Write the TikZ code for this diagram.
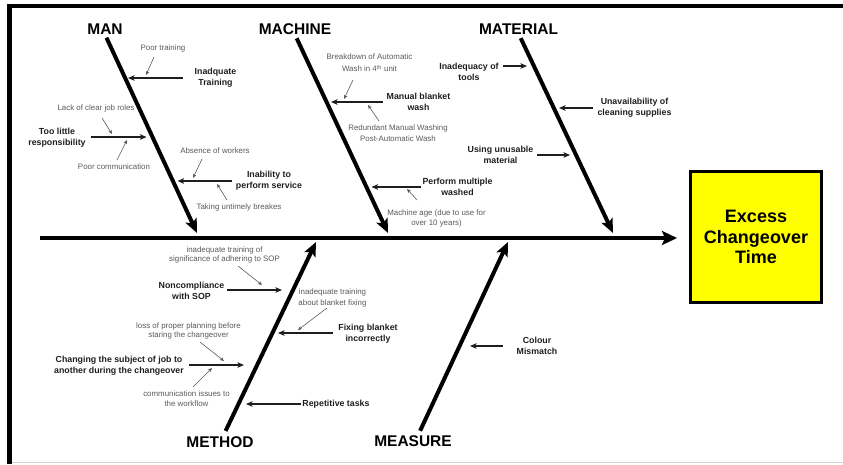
\documentclass[tikz,border=0pt]{standalone}
\usepackage{fontspec}
\setmainfont{Liberation Sans}
\usetikzlibrary{arrows.meta,calc}
\definecolor{notegray}{HTML}{5A5A5A}
\definecolor{labblack}{HTML}{1E1E1E}
\definecolor{boxyellow}{HTML}{FFFF00}
\begin{document}
\begin{tikzpicture}[x=1pt,y=-1pt,
  cat/.style={font=\fontsize{15.5}{18}\selectfont\bfseries, text=black, inner sep=0pt},
  lab/.style={font=\fontsize{8.8}{10.7}\selectfont\bfseries, text=labblack, align=center, inner sep=0pt},
  note/.style={font=\fontsize{7.9}{10.7}\selectfont, text=notegray, align=center, inner sep=0pt},
  tightnote/.style={note, font=\fontsize{7.9}{8.4}\selectfont},
  bone/.style={line width=4pt, -{Stealth[length=14pt,width=12pt,inset=3pt]}},
  sub/.style={line width=1.3pt, draw=labblack, -{Stealth[length=6.5pt,width=5.5pt,inset=1.5pt]}},
  tiny/.style={line width=0.6pt, draw=notegray, -{Stealth[length=4pt,width=3.5pt,inset=1pt]}},
]
\useasboundingbox (0,0) rectangle (843,464);
% frame
\draw[line width=4pt] (7,6) -- (843,6);
\draw[line width=4.5pt] (9.5,4) -- (9.5,464);
\draw[gray!35, line width=0.8pt] (12,462) -- (843,462);

% effect box
\node[draw, line width=3pt, fill=boxyellow, minimum width=131pt, minimum height=131pt,
      font=\fontsize{18}{20.5}\selectfont\bfseries, align=center, inner sep=0pt] (effect) at (756,237) {Excess\\Changeover\\Time};

% spine
\coordinate (sp0) at (40,238);
\draw[line width=4pt, -{Stealth[length=15pt,width=14pt,inset=3pt]}, shorten >=12pt] (sp0) -- (effect.west |- sp0);

% categories
\node[cat] (man) at (105,29) {MAN};
\node[cat] (machine) at (295,29) {MACHINE};
\node[cat] (material) at (518.5,29) {MATERIAL};
\node[cat] (method) at (220,442) {METHOD};
\node[cat] (measure) at (413,441) {MEASURE};

\coordinate (manTip) at (197,233);
\coordinate (machTip) at (388,233);
\coordinate (matTip) at (613,233);
\coordinate (methTip) at (316,242);
\coordinate (measTip) at (508,242);

\draw[bone, shorten <=3.5pt] (man.south) -- (manTip);
\draw[bone, shorten <=4pt] (machine.south) -- (machTip);
\draw[bone, shorten <=4pt] ([xshift=0.5pt]material.south) -- (matTip);
\draw[bone, shorten <=6pt] ([xshift=3pt]method.north) -- (methTip);
\draw[bone, shorten <=5pt] ([xshift=5pt]measure.north) -- (measTip);

% sub-cause labels
\node[lab] (lA) at (215.5,78) {Inadquate\\Training};
\node[lab] (lB) at (57,137.5) {Too little\\responsibility};
\node[lab] (lC) at (269,180.5) {Inability to\\perform service};
\node[lab] (lD) at (418.5,102) {Manual blanket\\wash};
\node[lab] (lE) at (457.5,187) {Perform multiple\\washed};
\node[lab] (lF) at (469,72) {Inadequacy of\\tools};
\node[lab] (lG) at (634.5,108) {Unavailability of\\cleaning supplies};
\node[lab] (lH) at (500.5,155) {Using unusable\\material};
\node[lab] (lI) at (191.5,290.5) {Noncompliance\\with SOP};
\node[lab] (lJ) at (119,365.5) {Changing the subject of job to\\another during the changeover};
\node[lab] (lK) at (368,334) {Fixing blanket\\incorrectly};
\node[lab] (lL) at (336,404) {Repetitive tasks};
\node[lab] (lM) at (537,346) {Colour\\Mismatch};

% tips on bones
\coordinate (tA) at (128,78);
\coordinate (tB) at (146.5,137);
\coordinate (tC) at (177.5,181);
\coordinate (tD) at (331,102);
\coordinate (tE) at (371.5,187);
\coordinate (tF) at (527,66);
\coordinate (tG) at (559,108);
\coordinate (tH) at (570,155);
\coordinate (tI) at (282,290);
\coordinate (tJ) at (244,365);
\coordinate (tK) at (278,333);
\coordinate (tL) at (246,404);
\coordinate (tM) at (470,346);

\draw[sub, shorten <=11.7pt] (lA.west |- tA) -- (tA);
\draw[sub, shorten <=5pt] (lB.east |- tB) -- (tB);
\draw[sub, shorten <=4pt] (lC.west |- tC) -- (tC);
\draw[sub, shorten <=4pt] (lD.west |- tD) -- (tD);
\draw[sub, shorten <=1pt] (lE.west |- tE) -- (tE);
\draw[sub, shorten <=4pt] (lF.east |- tF) -- (tF);
\draw[sub, shorten <=4.5pt] (lG.west |- tG) -- (tG);
\draw[sub, shorten <=4pt] (lH.east |- tH) -- (tH);
\draw[sub, shorten <=3pt] (lI.east |- tI) -- (tI);
\draw[sub, shorten <=5.5pt] (lJ.east |- tJ) -- (tJ);
\draw[sub, shorten <=5.7pt] (lK.west |- tK) -- (tK);
\draw[sub, shorten <=1.5pt] (lL.west |- tL) -- (tL);
\draw[sub, shorten <=14pt] (lM.west |- tM) -- (tM);

% notes
\node[note] (nA1) at (163,48) {Poor training};
\node[note] (nB1) at (96,108) {Lack of clear job roles};
\node[note] (nB2) at (114,167) {Poor communication};
\node[note] (nC1) at (215,151) {Absence of workers};
\node[note] (nC2) at (239,207) {Taking untimely breakes};
\node[note, font=\fontsize{7.9}{12}\selectfont] (nD1) at (369.5,63) {Breakdown of Automatic\\Wash in 4\textsuperscript{th} unit};
\node[note] (nD2) at (398,133) {Redundant Manual Washing\\Post-Automatic Wash};
\node[note] (nE1) at (436.5,218.5) {Machine age (due to use for\\over 10 years)};
\node[tightnote] (nI1) at (224.5,255) {inadequate training of\\significance of adhering to SOP};
\node[note] (nK1) at (332.5,298) {inadequate training\\about blanket fixing};
\node[tightnote] (nJ1) at (188.5,331) {loss of proper planning before\\staring the changeover};
\node[note] (nJ2) at (186.5,398.7) {communication issues to\\the workflow};

% note arrows
\coordinate (a1s) at (154,57);   \coordinate (a1e) at (146,75);
\coordinate (b1s) at (102,118);  \coordinate (b1e) at (112,134);
\coordinate (b2s) at (117,160);  \coordinate (b2e) at (127,140);
\coordinate (c1s) at (202,159);  \coordinate (c1e) at (193,178);
\coordinate (c2s) at (227,200);  \coordinate (c2e) at (217,184);
\coordinate (d1s) at (353,80);   \coordinate (d1e) at (344,99);
\coordinate (d2s) at (379,121);  \coordinate (d2e) at (368,105);
\coordinate (e1s) at (417,200);  \coordinate (e1e) at (407,189);
\coordinate (i1s) at (238,266);  \coordinate (i1e) at (262,285);
\coordinate (k1s) at (327,308);  \coordinate (k1e) at (298,330);
\coordinate (j1s) at (200,342);  \coordinate (j1e) at (224,361);
\coordinate (j2s) at (193,387);  \coordinate (j2e) at (212,368);
\foreach \n in {a1,b1,b2,c1,c2,d1,d2,e1,i1,k1,j1,j2}
  \draw[tiny] (\n s) -- (\n e);
\end{tikzpicture}
\end{document}
